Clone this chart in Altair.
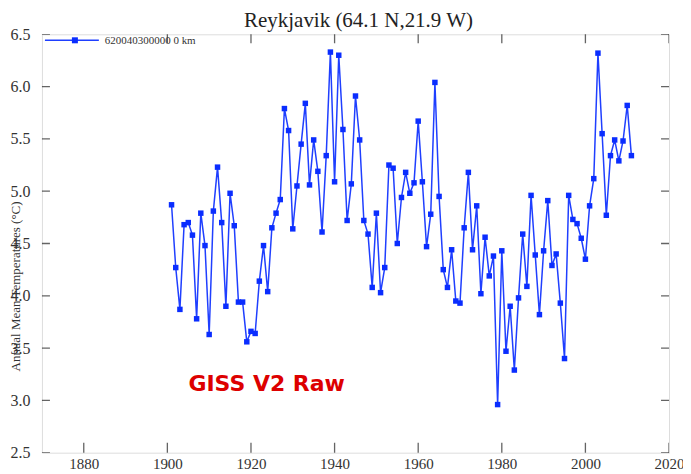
import altair as alt
import pandas as pd

# ---------------- data ----------------
years = list(range(1901, 2012))
temps = [
    4.87, 4.27, 3.87, 4.68, 4.70, 4.58, 3.78, 4.79, 4.48, 3.63,   # 1901-1910
    4.81, 5.23, 4.70, 3.90, 4.98, 4.67, 3.94, 3.94, 3.56, 3.66,   # 1911-1920
    3.64, 4.14, 4.48, 4.04, 4.65, 4.79, 4.92, 5.79, 5.58, 4.64,   # 1921-1930
    5.05, 5.45, 5.84, 5.06, 5.49, 5.19, 4.61, 5.34, 6.33, 5.09,   # 1931-1940
    6.30, 5.59, 4.72, 5.07, 5.91, 5.49, 4.72, 4.59, 4.08, 4.79,   # 1941-1950
    4.03, 4.27, 5.25, 5.22, 4.50, 4.94, 5.18, 4.98, 5.08, 5.67,   # 1951-1960
    5.09, 4.47, 4.78, 6.04, 4.95, 4.25, 4.08, 4.44, 3.95, 3.93,   # 1961-1970
    4.65, 5.18, 4.44, 4.86, 4.02, 4.56, 4.19, 4.38, 2.96, 4.43,   # 1971-1980
    3.47, 3.90, 3.29, 3.98, 4.59, 4.09, 4.96, 4.39, 3.82, 4.43,   # 1981-1990
    4.91, 4.29, 4.40, 3.93, 3.40, 4.96, 4.73, 4.69, 4.55, 4.35,   # 1991-2000
    4.86, 5.12, 6.32, 5.55, 4.77, 5.34, 5.49, 5.29, 5.48, 5.82,   # 2001-2010
    5.34,                                                         # 2011
]
station = "620040300000 0 km"
x_ticks = [1880, 1900, 1920, 1940, 1960, 1980, 2000, 2020]
y_ticks = [2.5, 3.0, 3.5, 4.0, 4.5, 5.0, 5.5, 6.0, 6.5]
title_text = "Reykjavik (64.1 N,21.9 W)"
y_title = "Annual Mean Temperatures (°C)"
note = "GISS V2 Raw"

df = pd.DataFrame({"year": years, "temp": temps})
xt = pd.DataFrame({"year": x_ticks})
yt = pd.DataFrame({"temp": y_ticks})
nt = pd.DataFrame({"note": [note]})
tt = pd.DataFrame({"title": [title_text]})
st = pd.DataFrame({"station": [station]})

W, H = 628, 419
SERIF = "Liberation Serif"
LINE_C = "#1f3fff"
PT_C = "#0a2dff"

xscale = alt.Scale(domain=[1870, 2020], nice=False, zero=False)
yscale = alt.Scale(domain=[2.5, 6.5], nice=False, zero=False)

xaxis = alt.Axis(values=x_ticks, format="d", labelFont=SERIF, labelFontSize=15,
                 labelColor="#333", labelPadding=4, ticks=False, tickSize=0,
                 domain=False, grid=False, title=None, labelFlush=False,
                 labelOverlap=False)
yaxis = alt.Axis(values=y_ticks, format=".1f", labelFont=SERIF, labelFontSize=16,
                 labelColor="#333", labelPadding=12, ticks=False, tickSize=0,
                 domain=False, grid=False, title=y_title, titleFont=SERIF,
                 titleFontSize=13, titleFontWeight="normal", titleColor="#333",
                 titleAngle=270, titleX=-32, titleY=252, titleBaseline="top",
                 titleAlign="center", labelFlush=False, labelOverlap=False)

base = alt.Chart(df)
line = base.mark_line(strokeWidth=1.5, color=LINE_C).encode(
    x=alt.X("year:Q", scale=xscale, axis=xaxis),
    y=alt.Y("temp:Q", scale=yscale, axis=yaxis),
)
points = base.mark_square(size=30, opacity=1, filled=True, color=PT_C).encode(
    x="year:Q", y="temp:Q",
)

tick_color = "#222"
bottom_ticks = alt.Chart(xt).mark_tick(orient="vertical", size=20, thickness=1.3,
                                       color=tick_color, clip=True).encode(
    x="year:Q", y=alt.value(H))
# the legend box hides the first top tick in the reference
top_ticks = alt.Chart(xt).transform_filter("datum.year > 1880").mark_tick(
    orient="vertical", size=18, thickness=1.3, color=tick_color, clip=True).encode(
    x="year:Q", y=alt.value(0))
left_ticks = alt.Chart(yt).mark_tick(orient="horizontal", size=16, thickness=1.3,
                                     color=tick_color, clip=True).encode(
    y="temp:Q", x=alt.value(0))
right_ticks = alt.Chart(yt).mark_tick(orient="horizontal", size=16, thickness=1.3,
                                      color=tick_color, clip=True).encode(
    y="temp:Q", x=alt.value(W))

# legend (top-left, inside the frame): line + square key and the station label
leg_line = alt.Chart(st).mark_rule(color=LINE_C, strokeWidth=1.5).encode(
    x=alt.value(3), x2=alt.value(57), y=alt.value(6))
leg_pt = alt.Chart(st).mark_square(size=36, opacity=1, filled=True, color=PT_C).encode(
    x=alt.value(33), y=alt.value(6))
leg_txt = alt.Chart(st).mark_text(font=SERIF, fontSize=11, color="#333",
                                  align="left", baseline="middle").encode(
    text="station:N", x=alt.value(63), y=alt.value(6.5))

label = alt.Chart(nt).mark_text(font="DejaVu Sans", fontWeight="bold", fontSize=22,
                                color="#dd0000", align="center",
                                baseline="middle").encode(
    text="note:N", x=alt.value(225), y=alt.value(350))

title_mark = alt.Chart(tt).mark_text(font=SERIF, fontSize=21, color="#222",
                                     align="center", baseline="top").encode(
    text="title:N", x=alt.value(W / 2 + 3), y=alt.value(-24))

chart = alt.layer(
    bottom_ticks, top_ticks, left_ticks, right_ticks, line, points,
    leg_line, leg_pt, leg_txt, label, title_mark
).properties(
    width=W, height=H,
    autosize=alt.AutoSizeParams(type="none"),
    padding={"left": 34, "top": 26, "right": 14, "bottom": 20},
).configure_view(
    stroke="#222", strokeWidth=1.5
).configure(background="white")

chart.save("out.html", embed_options={"renderer": "svg", "actions": False})
